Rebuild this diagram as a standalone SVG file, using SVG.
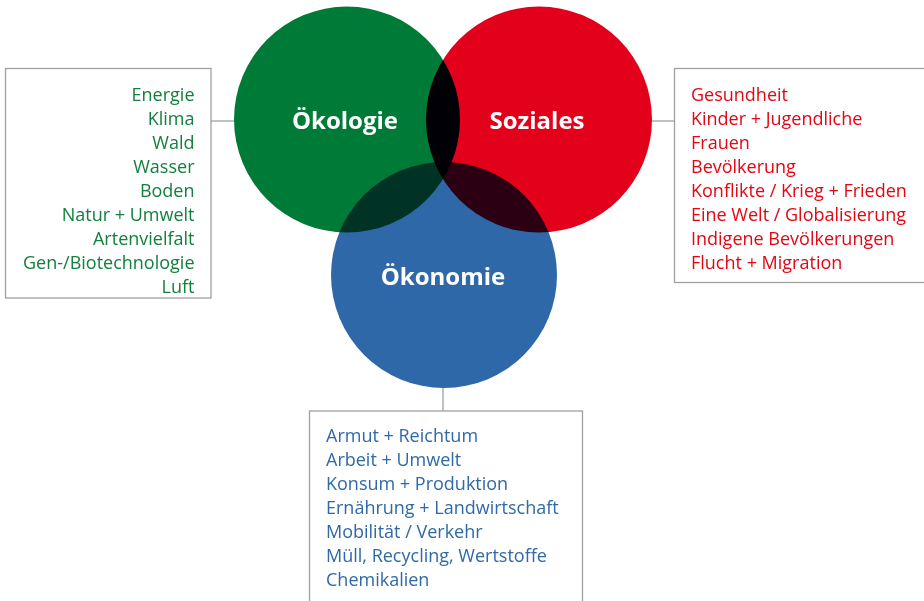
<svg xmlns="http://www.w3.org/2000/svg" width="924" height="601" viewBox="0 0 924 601">
<style>
.box{fill:none;stroke:#A0A0A0;stroke-width:1.3}
.conn{stroke:#A0A0A0;stroke-width:1.3;fill:none}
.circ{mix-blend-mode:multiply}
.title{font-family:"Open Sans","Noto Sans",sans-serif;font-weight:bold;font-size:24px;fill:#fff;text-anchor:middle}
.item{font-family:"Open Sans","Noto Sans",sans-serif;font-size:18px}
.g{fill:#117F3D}
.r{fill:#E30613}
.b{fill:#2F69A8}
</style>
<rect width="924" height="601" fill="#fff"/>
<g id="connectors">
<line class="conn" x1="211" y1="121" x2="234" y2="121"/>
<line class="conn" x1="652" y1="121" x2="674.5" y2="121"/>
<line class="conn" x1="443" y1="388" x2="443" y2="411"/>
</g>
<g id="circles" style="isolation:isolate">
<g id="node-oekologie"><circle class="circ" cx="347" cy="119.5" r="113" fill="#007A37"/></g>
<g id="node-soziales"><circle class="circ" cx="539" cy="119.5" r="113" fill="#E2001A"/></g>
<g id="node-oekonomie"><circle class="circ" cx="444" cy="275" r="113" fill="#2F68A8"/></g>
</g>
<g id="labels">
<text class="title" x="345" y="129">Ökologie</text>
<text class="title" x="537" y="129">Soziales</text>
<text class="title" x="443" y="285">Ökonomie</text>
</g>
<g id="box-oekologie">
<rect class="box" x="5.5" y="68.5" width="205.5" height="229.5"/>
<text class="item g" text-anchor="end" x="194.5" y="100.5">Energie</text>
<text class="item g" text-anchor="end" x="194.5" y="124.5">Klima</text>
<text class="item g" text-anchor="end" x="194.5" y="148.5">Wald</text>
<text class="item g" text-anchor="end" x="194.5" y="172.5">Wasser</text>
<text class="item g" text-anchor="end" x="194.5" y="196.5">Boden</text>
<text class="item g" text-anchor="end" x="194.5" y="220.5">Natur + Umwelt</text>
<text class="item g" text-anchor="end" x="194.5" y="244.5">Artenvielfalt</text>
<text class="item g" text-anchor="end" x="194.5" y="268.5">Gen-/Biotechnologie</text>
<text class="item g" text-anchor="end" x="194.5" y="292.5">Luft</text>
</g>
<g id="box-soziales">
<rect class="box" x="674.5" y="68.5" width="260" height="214"/>
<text class="item r" x="691" y="100.5">Gesundheit</text>
<text class="item r" x="691" y="124.5">Kinder + Jugendliche</text>
<text class="item r" x="691" y="148.5">Frauen</text>
<text class="item r" x="691" y="172.5">Bevölkerung</text>
<text class="item r" x="691" y="196.5">Konflikte / Krieg + Frieden</text>
<text class="item r" x="691" y="220.5">Eine Welt / Globalisierung</text>
<text class="item r" x="691" y="244.5">Indigene Bevölkerungen</text>
<text class="item r" x="691" y="268.5">Flucht + Migration</text>
</g>
<g id="box-oekonomie">
<rect class="box" x="309.5" y="411" width="273" height="220"/>
<text class="item b" x="326" y="442">Armut + Reichtum</text>
<text class="item b" x="326" y="466">Arbeit + Umwelt</text>
<text class="item b" x="326" y="490">Konsum + Produktion</text>
<text class="item b" x="326" y="514">Ernährung + Landwirtschaft</text>
<text class="item b" x="326" y="538">Mobilität / Verkehr</text>
<text class="item b" x="326" y="562">Müll, Recycling, Wertstoffe</text>
<text class="item b" x="326" y="586">Chemikalien</text>
</g>
</svg>
